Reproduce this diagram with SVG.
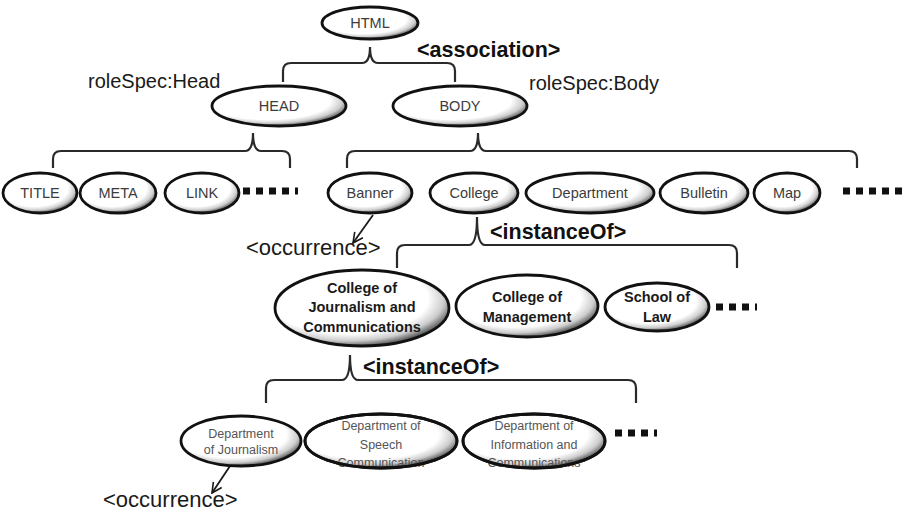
<svg xmlns="http://www.w3.org/2000/svg" width="903" height="511" viewBox="0 0 903 511">
  <defs>
    <!-- soft inner shading toward the lower right of each node -->
    <radialGradient id="shade" cx="0.42" cy="0.38" r="0.62" fx="0.42" fy="0.38">
      <stop offset="0" stop-color="#ffffff"/>
      <stop offset="0.74" stop-color="#ffffff"/>
      <stop offset="0.89" stop-color="#cdcdcd"/>
      <stop offset="1" stop-color="#666666"/>
    </radialGradient>
    <marker id="vee" viewBox="0 0 12 12" refX="11" refY="6" markerWidth="12" markerHeight="12" markerUnits="userSpaceOnUse" orient="auto">
      <path d="M1,1 L11,6 L1,11" fill="none" stroke="#1a1a1a" stroke-width="1.6"/>
    </marker>
  </defs>
  <style>
    .node ellipse { fill: url(#shade); stroke: #111; stroke-width: 2.8; }
    .lbl { font-family: "Liberation Sans", Arial, sans-serif; fill: #3c3c3c; text-anchor: middle; }
    .small { font-size: 14.5px; }
    .bold { font-weight: bold; fill: #1a1a1a; font-size: 14.5px; }
    .dept { font-size: 12.5px; fill: #555; }
    .tag { font-family: "Liberation Sans", Arial, sans-serif; fill: #1a1a1a; font-size: 20px; }
    .occ { font-size: 22px; }
    .rel { font-family: "Liberation Sans", Arial, sans-serif; fill: #111; font-size: 21.5px; font-weight: bold; }
    .brace { fill: none; stroke: #2a2a2a; stroke-width: 2.2; }
    .dots { stroke: #111; stroke-width: 7; stroke-dasharray: 7 6; }
    .arrow { stroke: #1a1a1a; stroke-width: 1.8; marker-end: url(#vee); }
  </style>

  <rect width="903" height="511" fill="#ffffff"/>

  <!-- connectors: braces, arrows and ellipsis marks -->
  <g id="connectors">
    <path class="brace" d="M283,82 V71 Q283,63 291,63 H362 Q370,63 370,47 Q370,63 378,63 H447 Q455,63 455,71 V82"/>
    <path class="brace" d="M53,168 V159 Q53,151 61,151 H245 Q253,151 253,133 Q253,151 261,151 H282 Q290,151 290,159 V168"/>
    <path class="brace" d="M347,168 V159 Q347,151 355,151 H470 Q478,151 478,133 Q478,151 486,151 H849 Q857,151 857,159 V168"/>
    <path class="brace" d="M397,268 V253 Q397,245 405,245 H469 Q477,245 477,217 Q477,245 485,245 H729 Q737,245 737,253 V268"/>
    <path class="brace" d="M266,403 V388 Q266,380 274,380 H342 Q350,380 350,355 Q350,380 358,380 H628 Q636,380 636,388 V403"/>
    <line class="arrow" x1="373" y1="215" x2="353" y2="243"/>
    <line class="arrow" x1="230" y1="466" x2="212" y2="493"/>
    <line class="dots" x1="243" y1="191" x2="298" y2="191"/>
    <line class="dots" x1="843" y1="191" x2="903" y2="191"/>
    <line class="dots" x1="716" y1="307" x2="757" y2="307"/>
    <line class="dots" x1="615" y1="433" x2="657" y2="433"/>
  </g>

  <!-- relation and role labels -->
  <g id="labels">
    <text class="rel" x="417" y="57">&lt;association&gt;</text>
    <text class="tag" x="88" y="88">roleSpec:Head</text>
    <text class="tag" x="529" y="90">roleSpec:Body</text>
    <text class="rel" x="490" y="239">&lt;instanceOf&gt;</text>
    <text class="rel" x="363" y="374">&lt;instanceOf&gt;</text>
    <text class="tag occ" x="246" y="255">&lt;occurrence&gt;</text>
    <text class="tag occ" x="103" y="507">&lt;occurrence&gt;</text>
  </g>

  <g id="html" class="node"><ellipse cx="370" cy="23" rx="48" ry="16"/><text class="lbl small" x="370" y="28">HTML</text></g>
  <g id="head" class="node"><ellipse cx="279" cy="106" rx="67" ry="20"/><text class="lbl small" x="279" y="111">HEAD</text></g>
  <g id="body" class="node"><ellipse cx="460" cy="106" rx="67" ry="20"/><text class="lbl small" x="460" y="111">BODY</text></g>

  <g id="title" class="node"><ellipse cx="40" cy="193" rx="37" ry="20"/><text class="lbl small" x="40" y="198">TITLE</text></g>
  <g id="meta" class="node"><ellipse cx="118" cy="193" rx="38" ry="20"/><text class="lbl small" x="118" y="198">META</text></g>
  <g id="link" class="node"><ellipse cx="202" cy="193" rx="37" ry="20"/><text class="lbl small" x="202" y="198">LINK</text></g>
  <g id="banner" class="node"><ellipse cx="370" cy="193" rx="42" ry="20"/><text class="lbl small" x="370" y="198">Banner</text></g>
  <g id="college" class="node"><ellipse cx="474" cy="193" rx="44" ry="20"/><text class="lbl small" x="474" y="198">College</text></g>
  <g id="department" class="node"><ellipse cx="590" cy="193" rx="64" ry="20"/><text class="lbl small" x="590" y="198">Department</text></g>
  <g id="bulletin" class="node"><ellipse cx="704" cy="193" rx="44" ry="20"/><text class="lbl small" x="704" y="198">Bulletin</text></g>
  <g id="map" class="node"><ellipse cx="787" cy="193" rx="33" ry="20"/><text class="lbl small" x="787" y="198">Map</text></g>

  <g id="college-journalism" class="node">
    <ellipse cx="362" cy="308" rx="87" ry="38"/>
    <text class="lbl bold" x="362" y="293">College of</text>
    <text class="lbl bold" x="362" y="312">Journalism and</text>
    <text class="lbl bold" x="362" y="332">Communications</text>
  </g>
  <g id="college-management" class="node">
    <ellipse cx="527" cy="306" rx="71" ry="31"/>
    <text class="lbl bold" x="527" y="302">College of</text>
    <text class="lbl bold" x="527" y="322">Management</text>
  </g>
  <g id="school-law" class="node">
    <ellipse cx="657" cy="307" rx="52" ry="24"/>
    <text class="lbl bold" x="657" y="302">School of</text>
    <text class="lbl bold" x="657" y="322">Law</text>
  </g>

  <g id="dept-journalism" class="node">
    <ellipse cx="241" cy="441" rx="60" ry="25"/>
    <text class="lbl dept" x="241" y="438">Department</text>
    <text class="lbl dept" x="241" y="454">of Journalism</text>
  </g>
  <g id="dept-speech" class="node">
    <ellipse cx="381" cy="441" rx="76" ry="27"/>
    <text class="lbl dept" x="381" y="430">Department of</text>
    <text class="lbl dept" x="381" y="449">Speech</text>
    <text class="lbl dept" x="381" y="467">Communication</text>
    <ellipse cx="381" cy="441" rx="76" ry="27" style="fill:none"/>
  </g>
  <g id="dept-information" class="node">
    <ellipse cx="534" cy="441" rx="71" ry="27"/>
    <text class="lbl dept" x="534" y="430">Department of</text>
    <text class="lbl dept" x="534" y="449">Information and</text>
    <text class="lbl dept" x="534" y="467">Communications</text>
    <ellipse cx="534" cy="441" rx="71" ry="27" style="fill:none"/>
  </g>
</svg>
